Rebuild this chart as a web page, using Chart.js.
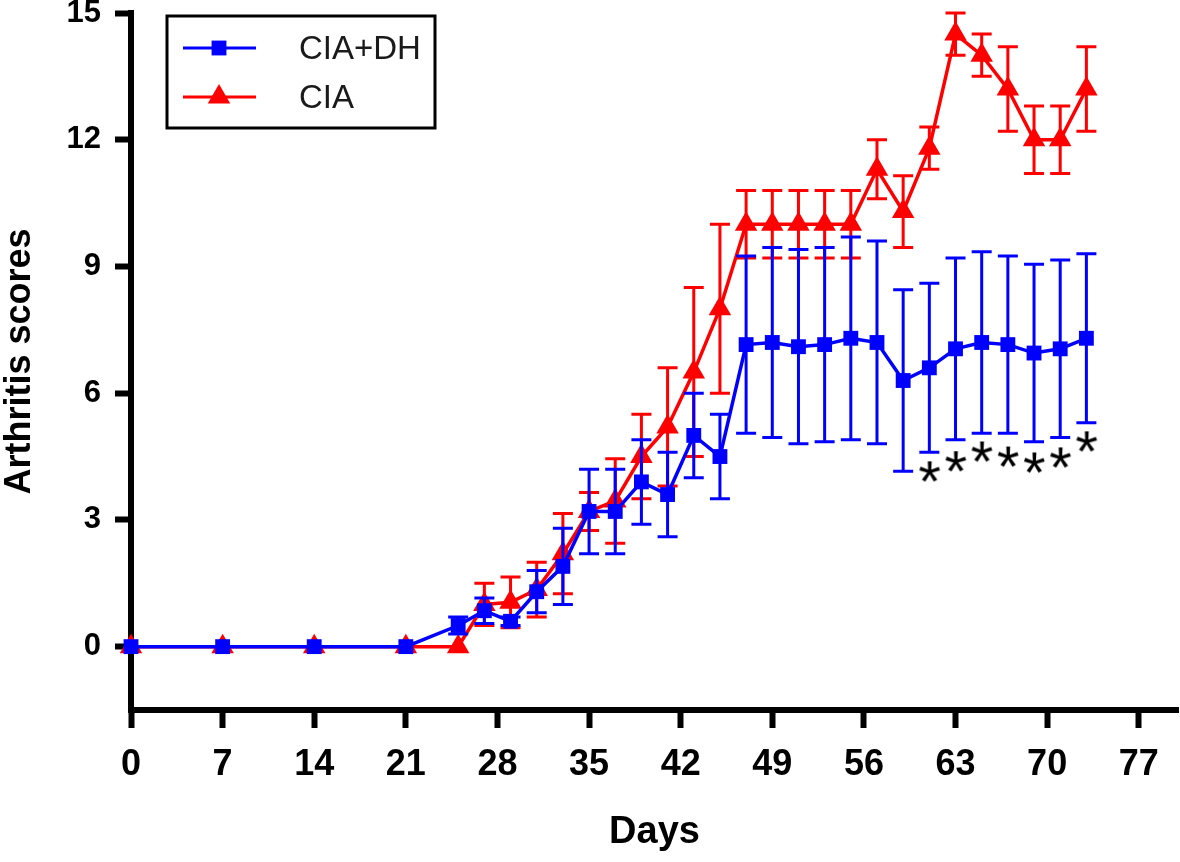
<!DOCTYPE html>
<html>
<head>
<meta charset="utf-8">
<script src="https://cdn.jsdelivr.net/npm/chart.js@4/dist/chart.umd.min.js"></script>
<style>
  html, body { margin: 0; padding: 0; background: #fff; }
  #wrap { width: 1180px; height: 862px; }
</style>
</head>
<body>
<div id="wrap"><canvas id="chart" width="1180" height="862"></canvas></div>
<script>
// ---- data ----
const days = [0, 7, 14, 21, 25, 27, 29, 31, 33, 35, 37, 39, 41, 43, 45, 47, 49, 51, 53, 55, 57, 59, 61, 63, 65, 67, 69, 71, 73];

const dhScores = [0, 0, 0, 0, 0.5, 0.85, 0.6, 1.3, 1.9, 3.2, 3.2, 3.9, 3.6, 5.0, 4.5, 7.15, 7.2, 7.1, 7.15, 7.3, 7.2, 6.3, 6.6, 7.05, 7.2, 7.15, 6.95, 7.05, 7.3];
const dhErr    = [0, 0, 0, 0, 0.2, 0.3, 0.1, 0.5, 0.9, 1.0, 1.0, 1.0, 1.0, 1.0, 1.0, 2.1, 2.25, 2.3, 2.3, 2.4, 2.4, 2.15, 2.0, 2.15, 2.15, 2.1, 2.1, 2.1, 2.0];

const ciaScores = [0, 0, 0, 0, 0, 1.0, 1.05, 1.35, 2.2, 3.2, 3.45, 4.5, 5.2, 6.5, 8.0, 10, 10, 10, 10, 10, 11.3, 10.3, 11.8, 14.5, 14.0, 13.2, 12.0, 12.0, 13.2];
const ciaErr    = [0, 0, 0, 0, 0, 0.5, 0.6, 0.65, 0.95, 0.45, 1.0, 1.0, 1.4, 2.0, 2.0, 0.8, 0.8, 0.8, 0.8, 0.8, 0.7, 0.85, 0.5, 0.5, 0.5, 1.0, 0.8, 0.8, 1.0];

// significance marks (*) under the CIA+DH bars
const starDays = [61, 63, 65, 67, 69, 71, 73];
const starY    = [4.15, 4.39, 4.62, 4.5, 4.36, 4.48, 4.86];

const xTicks = [0, 7, 14, 21, 28, 35, 42, 49, 56, 63, 70, 77];
const yTicks = [0, 3, 6, 9, 12, 15];

const BLUE = '#0000FF';
const RED = '#FF0000';
const FONT = '"Liberation Sans", Arial, sans-serif';

const toPoints = (xs, ys) => xs.map((x, i) => ({ x, y: ys[i] }));

// asterisk glyph as a point style
function makeStar() {
  const c = document.createElement('canvas');
  c.width = 40; c.height = 40;
  const g = c.getContext('2d');
  g.font = '58px ' + FONT;
  g.fillStyle = '#000';
  const m = g.measureText('*');
  const w = m.actualBoundingBoxLeft + m.actualBoundingBoxRight;
  const h = m.actualBoundingBoxAscent + m.actualBoundingBoxDescent;
  g.fillText('*', 20 - w / 2 + m.actualBoundingBoxLeft, 20 - h / 2 + m.actualBoundingBoxAscent);
  return c;
}

// ---- error bars, drawn under each series ----
const errorBars = {
  id: 'errorBars',
  beforeDatasetDraw(chart, args) {
    const ds = chart.data.datasets[args.index];
    if (!ds.errors) return;
    const { x, y } = chart.scales;
    const ctx = chart.ctx;
    ctx.save();
    ctx.strokeStyle = ds.borderColor;
    ctx.lineWidth = 3;
    ds.data.forEach((p, i) => {
      const e = ds.errors[i];
      if (!e) return;
      const px = x.getPixelForValue(p.x);
      const top = y.getPixelForValue(p.y + e);
      const bot = y.getPixelForValue(p.y - e);
      ctx.beginPath();
      ctx.moveTo(px, top); ctx.lineTo(px, bot);
      ctx.moveTo(px - 10, top); ctx.lineTo(px + 10, top);
      ctx.moveTo(px - 10, bot); ctx.lineTo(px + 10, bot);
      ctx.stroke();
    });
    ctx.restore();
  }
};

// ---- boxed legend, line + marker ----
const boxLegend = {
  id: 'boxLegend',
  afterDraw(chart) {
    const ctx = chart.ctx;
    ctx.save();
    ctx.strokeStyle = '#000';
    ctx.lineWidth = 3;
    ctx.strokeRect(167, 16, 268, 112);
    const rows = chart.data.datasets.filter(d => d.errors);
    rows.forEach((ds, i) => {
      const yy = 48 + i * 49;
      ctx.strokeStyle = ds.borderColor;
      ctx.fillStyle = ds.borderColor;
      ctx.lineWidth = 3;
      ctx.beginPath();
      ctx.moveTo(183, yy); ctx.lineTo(256, yy);
      ctx.stroke();
      Chart.helpers.drawPoint(ctx, { pointStyle: ds.pointStyle, radius: ds.pointRadius, rotation: 0, borderWidth: 0 }, 219, yy);
      ctx.fillStyle = '#1a1a1a';
      ctx.font = '33px ' + FONT;
      ctx.textBaseline = 'middle';
      ctx.fillText(ds.label, 299, yy + 2);
    });
    ctx.restore();
  }
};

new Chart(document.getElementById('chart'), {
  type: 'line',
  data: {
    datasets: [
      {
        label: 'CIA+DH',
        data: toPoints(days, dhScores),
        errors: dhErr,
        borderColor: BLUE,
        backgroundColor: BLUE,
        borderWidth: 3.5,
        pointStyle: 'rect',
        pointRadius: 10.5,
        pointBorderWidth: 0,
        clip: false
      },
      {
        label: 'CIA',
        data: toPoints(days, ciaScores),
        errors: ciaErr,
        borderColor: RED,
        backgroundColor: RED,
        borderWidth: 3.5,
        pointStyle: 'triangle',
        pointRadius: 13,
        pointBorderWidth: 0,
        clip: false
      },
      {
        label: 'sig',
        data: toPoints(starDays, starY),
        showLine: false,
        pointStyle: makeStar(),
        clip: false
      }
    ]
  },
  options: {
    responsive: false,
    animation: false,
    layout: { autoPadding: false, padding: { top: 13, right: 2, left: 0, bottom: 0 } },
    plugins: {
      legend: { display: false },
      tooltip: { enabled: false }
    },
    scales: {
      x: {
        type: 'linear',
        min: 0,
        max: 80,
        afterBuildTicks: s => { s.ticks = xTicks.map(v => ({ value: v })); },
        afterFit: s => { s.height = 152; s.paddingLeft = 0; s.paddingRight = 0; },
        border: { display: true, color: '#000', width: 6 },
        grid: { drawOnChartArea: false, drawTicks: true, tickLength: 18, tickWidth: 6, tickColor: '#000' },
        ticks: { color: '#000', padding: 15, maxRotation: 0, font: { family: FONT, size: 36, weight: 'bold' } },
        title: { display: true, text: 'Days', color: '#000', padding: { top: 0, bottom: 7 }, font: { family: FONT, size: 38, weight: 'bold', lineHeight: 1.2 } }
      },
      y: {
        min: -1.5,
        max: 15,
        afterBuildTicks: s => { s.ticks = yTicks.map(v => ({ value: v })); },
        afterFit: s => { s.width = 131; s.paddingTop = 0; s.paddingBottom = 0; },
        border: { display: true, color: '#000', width: 6 },
        grid: { drawOnChartArea: false, drawTicks: true, tickLength: 16, tickWidth: 6, tickColor: '#000' },
        ticks: { color: '#000', padding: 14, font: { family: FONT, size: 31, weight: 'bold' } },
        title: { display: true, text: 'Arthritis scores', color: '#000', padding: { top: 2, bottom: 0 }, font: { family: FONT, size: 36, weight: 'bold', lineHeight: 1.0 } }
      }
    }
  },
  plugins: [errorBars, boxLegend]
});
</script>
</body>
</html>
